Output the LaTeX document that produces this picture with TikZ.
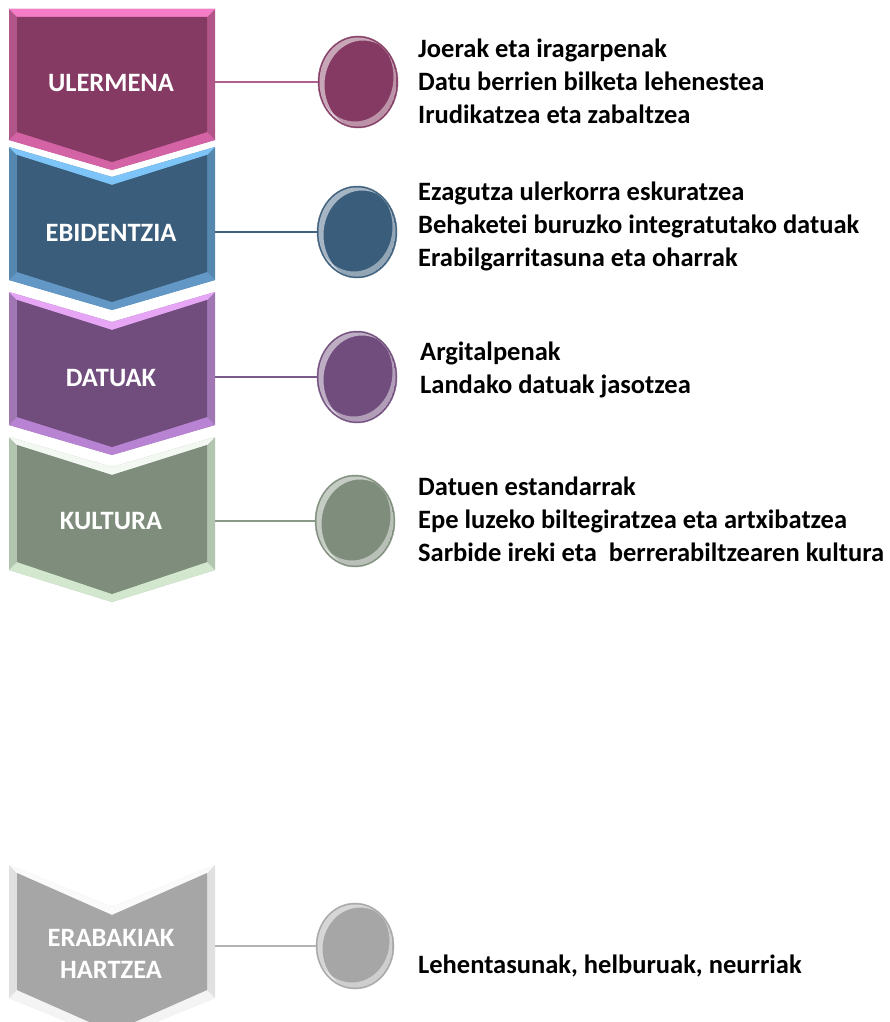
\documentclass[tikz,border=0pt]{standalone}
\usepackage{fontspec}
\setmainfont{Carlito}
\usetikzlibrary{shapes.geometric,calc}
\definecolor{uF}{HTML}{843A62}\definecolor{uT}{HTML}{F57CC6}\definecolor{uS}{HTML}{B25589}\definecolor{uB}{HTML}{D463A6}
\definecolor{eF}{HTML}{3A5D7B}\definecolor{eT}{HTML}{7DC5F8}\definecolor{eS}{HTML}{5687AE}\definecolor{eB}{HTML}{6397C6}
\definecolor{dF}{HTML}{714D7D}\definecolor{dT}{HTML}{E7A6F5}\definecolor{dS}{HTML}{A076B3}\definecolor{dB}{HTML}{B883D3}
\definecolor{kF}{HTML}{7F8E7C}\definecolor{kT}{HTML}{F4F8F2}\definecolor{kS}{HTML}{B2C5AE}\definecolor{kB}{HTML}{D3E7CE}
\definecolor{gF}{HTML}{A6A6A6}\definecolor{gT}{HTML}{FAFAFA}\definecolor{gS}{HTML}{E0E0E0}\definecolor{gB}{HTML}{F4F4F4}
\definecolor{uL}{HTML}{B0608F}\definecolor{eL}{HTML}{3E6282}\definecolor{dL}{HTML}{7A5A88}\definecolor{kL}{HTML}{8A9A88}\definecolor{gL}{HTML}{B4B4B4}
% #1 top, #2 bottom sides, #3 tip depth, #4 notch depth, #5 fill, #6 top band, #7 side band, #8 bottom band
\newcommand\chevshape[8]{%
 \fill[#7] (9,#1) -- (112,#1+#4) -- (215,#1) -- (215,#2) -- (112,#2+#3) -- (9,#2) -- cycle;
 \fill[#6] (9,#1) -- (112,#1+#4) -- (215,#1) -- (207,#1+8) -- (112,#1+#4+8) -- (17,#1+8) -- cycle;
 \fill[#8] (9,#2) -- (112,#2+#3) -- (215,#2) -- (207,#2-8) -- (112,#2+#3-8) -- (17,#2-8) -- cycle;
 \fill[#5] (17,#1+8) -- (112,#1+#4+8) -- (207,#1+8) -- (207,#2-8) -- (112,#2+#3-8) -- (17,#2-8) -- cycle;
}
% #1 name, #2 x, #3 y, #4 colour, #5 rx, #6 ry
\newcommand\glossy[6]{%
 \node[ellipse, minimum width=2*#5pt, minimum height=2*#6pt, inner sep=0pt, fill=#4, draw=#4!85!white, line width=0.5pt] (#1) at (#2,#3) {};
 \begin{scope}
  \clip (#2,#3) ellipse[x radius=#5-1.5, y radius=#6-1.5];
  \fill[white, opacity=0.55, even odd rule] (#2,#3) ellipse[x radius=#5-1.5, y radius=#6-1.5] (#2+5,#3+3) ellipse[x radius=#5-1.5, y radius=#6-1.5];
  \fill[white, opacity=0.45, even odd rule] (#2,#3) ellipse[x radius=#5-1.5, y radius=#6-1.5] (#2-3,#3-5) ellipse[x radius=#5-1.5, y radius=#6-1.5];
 \end{scope}
}
\tikzset{
 lbl/.style={text=white, font=\bfseries\fontsize{26.5}{32}\selectfont, align=center, inner sep=0pt},
 items/.style={anchor=west, inner sep=0pt, align=left, font=\bfseries\fontsize{26.5}{33}\selectfont},
 conn/.style={line width=1.3pt},
}
\begin{document}
\begin{tikzpicture}[x=1pt,y=-1pt]
\useasboundingbox (0,0) rectangle (890,1022);
\fill[white] (0,0) rectangle (890,1022);
% chevrons
\chevshape{9}{140}{30}{0}{uF}{uT}{uS}{uB}
\chevshape{147}{280}{30}{30}{eF}{eT}{eS}{eB}
\chevshape{292}{425}{30}{30}{dF}{dT}{dS}{dB}
\chevshape{437}{570}{32}{30}{kF}{kT}{kS}{kB}
\chevshape{865}{998}{42}{42}{gF}{gT}{gS}{gB}
\node[lbl] (ul) at (111,83) {ULERMENA};
\node[lbl] (eb) at (111,233) {EBIDENTZIA};
\node[lbl] (da) at (111,378) {DATUAK};
\node[lbl] (ku) at (111,521) {KULTURA};
\node[lbl] (er) at (111,954) {ERABAKIAK\\HARTZEA};
\coordinate (ulr) at (215,82);
\coordinate (ebr) at (215,232);
\coordinate (dar) at (215,377);
\coordinate (kur) at (215,521);
\coordinate (err) at (215,946);
% connectors (drawn under the balls)
\draw[conn, uL] (ulr) -- (318,82);
\draw[conn, eL] (ebr) -- (318,232);
\draw[conn, dL] (dar) -- (318,377);
\draw[conn, kL] (kur) -- (316,521);
\draw[conn, gL] (err) -- (316,946);
% balls
\glossy{cu}{358}{82}{uF}{40}{46}
\glossy{ce}{357}{232}{eF}{40}{46}
\glossy{cd}{357}{377}{dF}{40}{46}
\glossy{ck}{355}{521}{kF}{40}{46}
\glossy{cg}{355}{946}{gF}{39}{43}
% item lists
\node[items] (tu) at (418,81) {Joerak eta iragarpenak\\Datu berrien bilketa lehenestea\\Irudikatzea eta zabaltzea};
\node[items] (te) at (418,226) {Ezagutza ulerkorra eskuratzea\\Behaketei buruzko integratutako datuak\\Erabilgarritasuna eta oharrak};
\node[items] (td) at (420,370) {Argitalpenak\\Landako datuak jasotzea};
\node[items] (tk) at (418,519) {Datuen estandarrak\\Epe luzeko biltegiratzea eta artxibatzea\\Sarbide ireki eta\ \ berrerabiltzearen kultura};
\node[items] (tg) at (418,966) {Lehentasunak, helburuak, neurriak};
\end{tikzpicture}
\end{document}
